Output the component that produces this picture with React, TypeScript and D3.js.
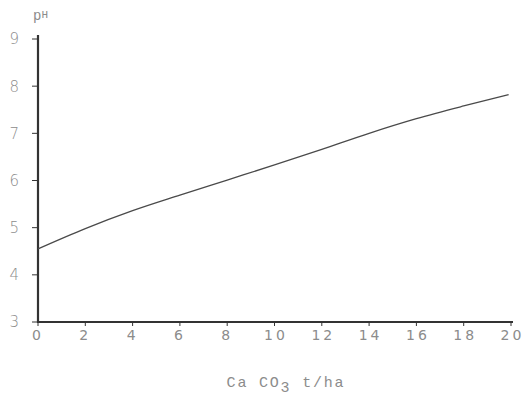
import * as d3 from "d3";

// CaCO3 applied (t/ha) vs soil pH
const lime = [0, 2, 4, 6, 8, 10, 12, 14, 16, 18, 19.9];
const ph = [4.55, 4.98, 5.36, 5.69, 6.01, 6.33, 6.66, 7.0, 7.31, 7.58, 7.82];
const xTicks = [0, 2, 4, 6, 8, 10, 12, 14, 16, 18, 20];
const yTicks = [3, 4, 5, 6, 7, 8, 9];

const width = 527;
const height = 402;
const marginLeft = 38;
const marginRight = 16;
const marginTop = 39;
const marginBottom = 80;

const ink = "#333";
const grey = "#8c8c8c";

export default function App() {
  const x = d3.scaleLinear().domain([0, 20]).range([marginLeft, width - marginRight]);
  const y = d3.scaleLinear().domain([3, 9]).range([height - marginBottom, marginTop]);

  const line = d3
    .line<number>()
    .x((_, i) => x(lime[i]))
    .y((d) => y(d))
    .curve(d3.curveMonotoneX);

  return (
    <svg
      width={width}
      height={height}
      viewBox={`0 0 ${width} ${height}`}
      style={{ position: "absolute", left: 0, top: 0, background: "#fff" }}
    >
      {/* y axis */}
      <line x1={x(0)} x2={x(0)} y1={y(9) - 4} y2={y(3) + 1} stroke={ink} strokeWidth={2.2} />
      {yTicks.map((t) => (
        <g key={t}>
          <line x1={x(0) - 6} x2={x(0)} y1={y(t)} y2={y(t)} stroke={ink} strokeWidth={1} />
          <text
            x={19}
            y={y(t)}
            dy="0.36em"
            textAnchor="end"
            fontFamily="DejaVu Sans"
            fontWeight={300}
            fontSize={15}
            fill={grey}
          >
            {t}
          </text>
        </g>
      ))}
      <text x={33} y={20} fontFamily="Liberation Mono" fontSize={14} fill={grey}>
        p<tspan fontSize={11} dy={-2}>H</tspan>
      </text>

      {/* x axis */}
      <line x1={x(0) - 1} x2={x(20) + 2} y1={y(3)} y2={y(3)} stroke={ink} strokeWidth={2.2} />
      {xTicks.map((t) => (
        <g key={t}>
          <line x1={x(t)} x2={x(t)} y1={y(3)} y2={y(3) + 4} stroke={ink} strokeWidth={1} />
          <text
            x={x(t) + (t >= 10 ? 1.5 : 0)}
            y={340}
            textAnchor="middle"
            fontFamily="DejaVu Sans"
            fontSize={14}
            letterSpacing={3}
            fill={grey}
          >
            {t}
          </text>
        </g>
      ))}
      <text
        x={286}
        y={387}
        textAnchor="middle"
        fontFamily="Liberation Mono"
        fontSize={15}
        letterSpacing={1.8}
        fill={grey}
      >
        Ca CO<tspan dy={5}>3</tspan>
        <tspan dy={-5}> t/ha</tspan>
      </text>

      {/* response curve */}
      <path d={line(ph) ?? ""} fill="none" stroke="#4a4a4a" strokeWidth={1.3} />
    </svg>
  );
}
